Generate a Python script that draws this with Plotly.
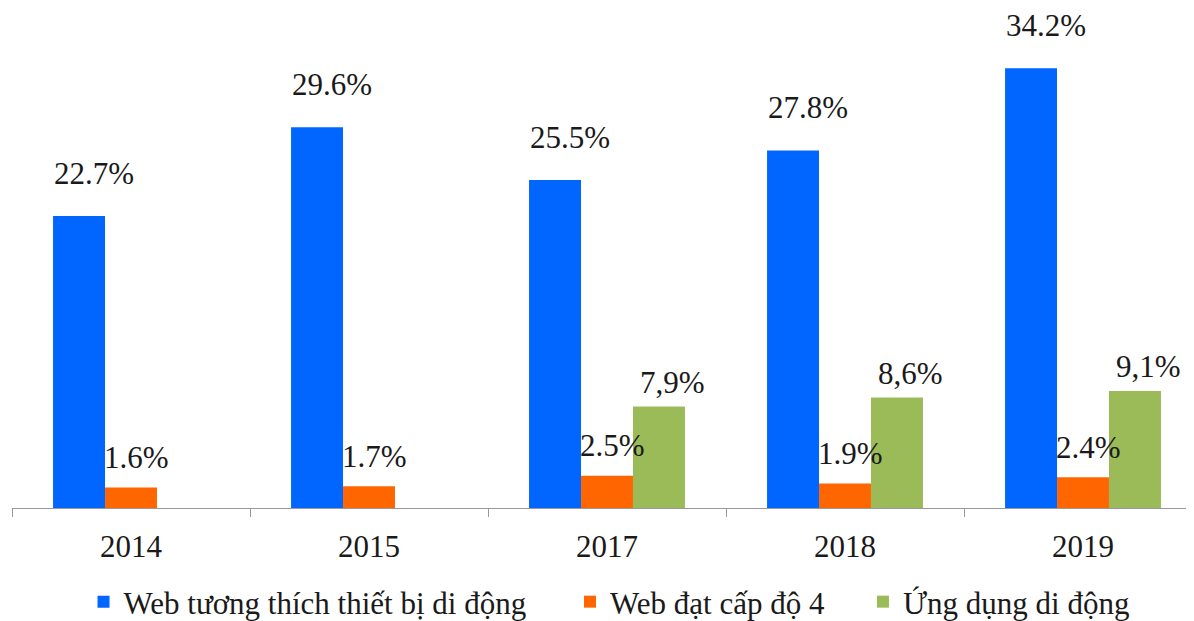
import plotly.graph_objects as go

YEARS = ["2014", "2015", "2017", "2018", "2019"]

WEB_MOBILE = [22.7, 29.6, 25.5, 27.8, 34.2]
WEB_LEVEL4 = [1.6, 1.7, 2.5, 1.9, 2.4]
APP_MOBILE = [None, None, 7.9, 8.6, 9.1]

WEB_MOBILE_TXT = ["22.7%", "29.6%", "25.5%", "27.8%", "34.2%"]
WEB_LEVEL4_TXT = ["1.6%", "1.7%", "2.5%", "1.9%", "2.4%"]
APP_MOBILE_TXT = [None, None, "7,9%", "8,6%", "9,1%"]

NAMES = ["Web tương thích thiết bị di động", "Web đạt cấp độ 4", "Ứng dụng di động"]

BLUE = "#0066FF"
ORANGE = "#FF6600"
GREEN = "#9BBB59"
TEXT = "#1A1A1A"
FONT = "Liberation Serif"

fig = go.Figure()
series = [
    (NAMES[0], WEB_MOBILE, BLUE, "legend"),
    (NAMES[1], WEB_LEVEL4, ORANGE, "legend2"),
    (NAMES[2], APP_MOBILE, GREEN, "legend3"),
]
for name, vals, col, lg in series:
    fig.add_trace(go.Bar(
        name=name, x=YEARS, y=vals, legend=lg,
        marker=dict(color=col, line=dict(width=0)),
    ))

# value labels (offset in pixels from the group centre)
labels = [
    (WEB_MOBILE, WEB_MOBILE_TXT, -37, 43),
    (WEB_LEVEL4, WEB_LEVEL4_TXT, 5, 30),
    (APP_MOBILE, APP_MOBILE_TXT, 65, 24),
]
for vals, txts, dx, dy in labels:
    for i, (v, t) in enumerate(zip(vals, txts)):
        if v is None:
            continue
        fig.add_annotation(
            x=i, y=v, text=t, showarrow=False,
            xshift=dx, yshift=dy, yanchor="middle",
            font=dict(family=FONT, size=31, color=TEXT),
        )

legend_style = dict(
    orientation="h", y=-0.188, yanchor="middle", xanchor="left",
    font=dict(family=FONT, size=31, color=TEXT),
    itemwidth=30, bgcolor="rgba(0,0,0,0)",
)

fig.update_layout(
    width=1194, height=621,
    plot_bgcolor="white", paper_bgcolor="white",
    font=dict(family=FONT, size=31, color=TEXT),
    margin=dict(l=4, r=0, t=0, b=121, autoexpand=False),
    barmode="group", bargap=0.345, bargroupgap=0,
    showlegend=True,
    legend=dict(x=0.0601, **legend_style),
    legend2=dict(x=0.4689, **legend_style),
    legend3=dict(x=0.7151, **legend_style),
    xaxis=dict(
        type="category", range=[-0.5, 4.5],
        showline=True, linecolor="#999999", linewidth=1,
        ticks="outside", tickson="boundaries", ticklen=8, tickcolor="#999999",
        showgrid=False, zeroline=False, automargin=False,
        tickfont=dict(family=FONT, size=31, color=TEXT),
        ticklabelstandoff=11,
    ),
    yaxis=dict(
        range=[0, 38.88], visible=False, showgrid=False, zeroline=False,
    ),
)

fig.write_html("out.html")
